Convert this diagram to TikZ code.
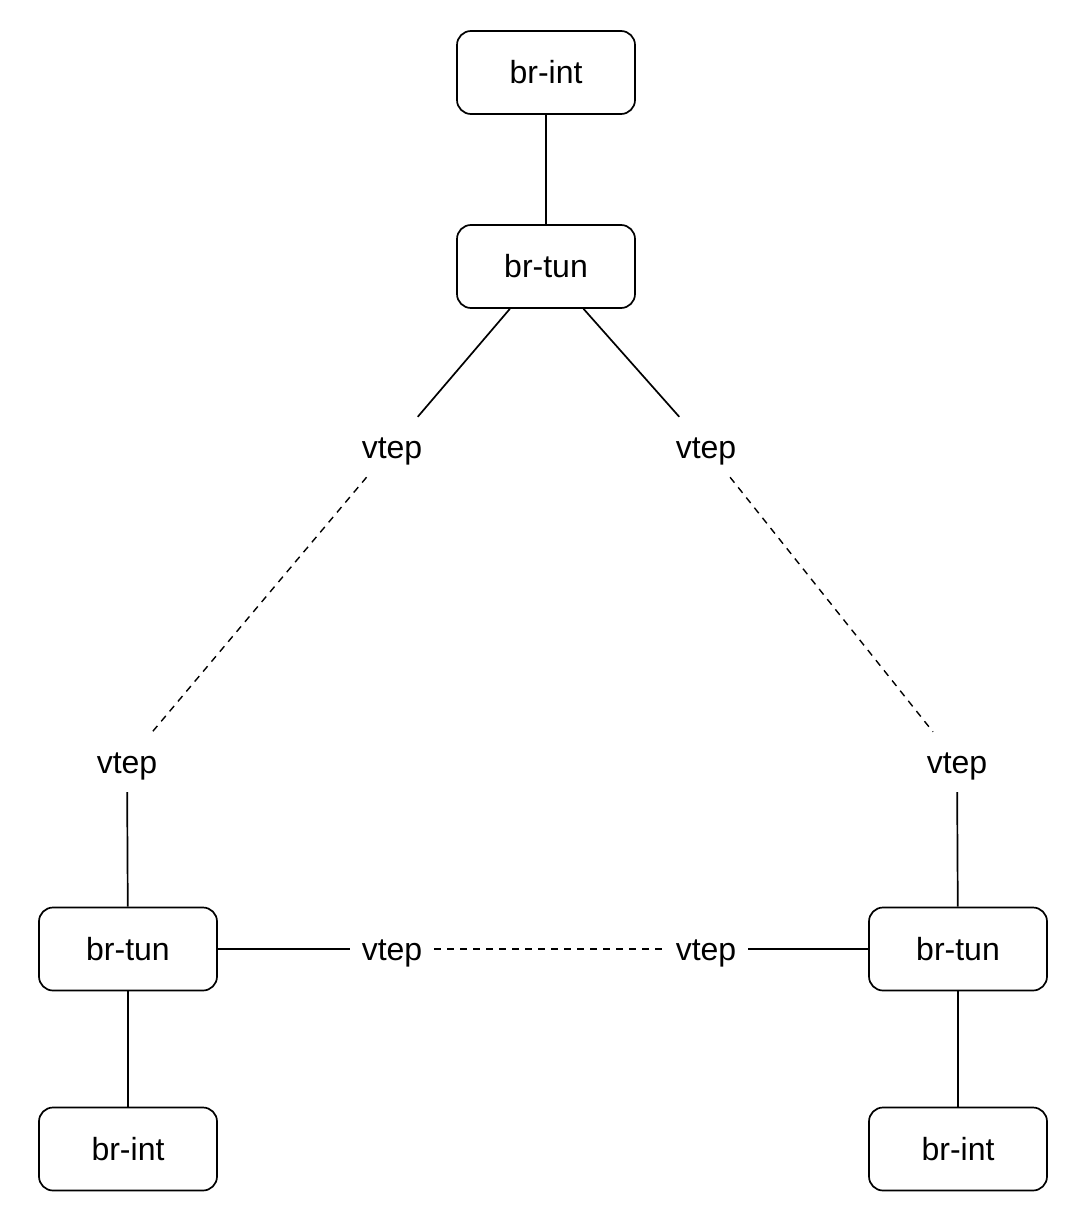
\documentclass[tikz,border=0pt]{standalone}
\usepackage{fontspec}
\setmainfont{Liberation Sans}
\begin{document}
\begin{tikzpicture}[x=1pt,y=-1pt,
  bridge/.style={draw, line width=1.7pt, rounded corners=14pt, minimum width=178pt, minimum height=83pt, inner sep=0pt, font=\fontsize{32}{38}\selectfont},
  vtepnode/.style={inner sep=0pt, minimum width=84pt, minimum height=60pt, text height=30pt, text depth=7pt, font=\fontsize{32}{38}\selectfont},
  link/.style={line width=1.7pt},
  tunnel/.style={line width=1.4pt, dash pattern=on 7pt off 6pt}]
\useasboundingbox (0,0) rectangle (1084,1220);
\node[bridge] (tint) at (546,72.5) {br-int};
\node[bridge] (ttun) at (546,266.5) {br-tun};
\node[bridge] (ltun) at (128,949) {br-tun};
\node[bridge] (lint) at (128,1149) {br-int};
\node[bridge] (rtun) at (958,949) {br-tun};
\node[bridge] (rint) at (958,1149) {br-int};
\node[vtepnode] (v1) at (392,447) {vtep};
\node[vtepnode] (v2) at (706,447) {vtep};
\node[vtepnode] (v3) at (127,762) {vtep};
\node[vtepnode] (v4) at (957,762) {vtep};
\node[vtepnode] (v5) at (392,949) {vtep};
\node[vtepnode] (v6) at (706,949) {vtep};
\draw[link] (tint) -- (ttun);
\draw[link] (ttun) -- (v1);
\draw[link] (ttun) -- (v2);
\draw[tunnel] (v1) -- (v3);
\draw[tunnel] (v2) -- (v4);
\draw[link] (v3) -- (ltun);
\draw[link] (v4) -- (rtun);
\draw[link] (ltun) -- (v5);
\draw[tunnel] (v5) -- (v6);
\draw[link] (v6) -- (rtun);
\draw[link] (ltun) -- (lint);
\draw[link] (rtun) -- (rint);
\end{tikzpicture}
\end{document}
